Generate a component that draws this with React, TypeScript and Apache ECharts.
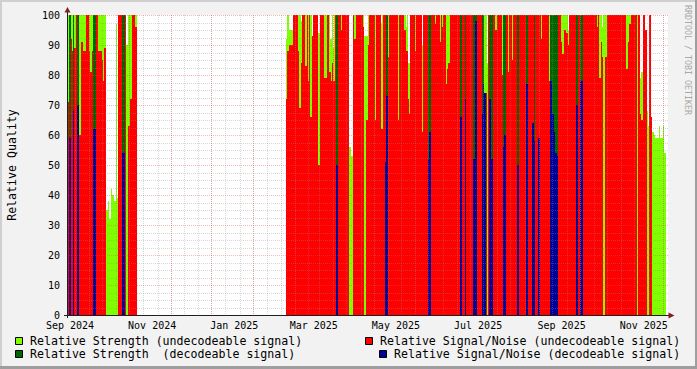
import React, { useEffect, useRef } from 'react';
import * as echarts from 'echarts';

// ---- axis / time setup (x unit = days since 2024-09-01) ----
const BASE_DATE = '2024-09-01';
const X_MIN = -2.2;
const X_MAX = 444.0;

const tickDates = ['2024-09-01', '2024-11-01', '2025-01-01', '2025-03-01', '2025-05-01', '2025-07-01', '2025-09-01', '2025-11-01'];
const tickLabels = ['Sep 2024', 'Nov 2024', 'Jan 2025', 'Mar 2025', 'May 2025', 'Jul 2025', 'Sep 2025', 'Nov 2025'];
const gridMonths = ['2024-08', '2024-09', '2024-10', '2024-11', '2024-12', '2025-01', '2025-02', '2025-03', '2025-04', '2025-05', '2025-06', '2025-07', '2025-08', '2025-09', '2025-10', '2025-11'];
const minorGridDays = ['05', '15', '25'];
const majorGridDays = ['15'];

// ---- data: step breakpoints [day, value] (value holds until next breakpoint; null = no data) ----
const strengthUndecodeable: [number, number | null][] = [
  [-2.2, 100], [26.5, 35], [28.0, 38], [29.0, 32], [30.2, 42], [31.4, 40], [32.9, 38], [33.9, 97], [34.7, 39],
  [35.4, 100], [41.6, 90], [43.1, 100], [50.0, null],
  [160.4, 92], [161.3, 100], [162.8, 95], [165.8, 100], [171.3, 98], [172.8, 100], [179.4, 93], [180.6, 100],
  [184.1, 94], [185.6, 100], [193.0, 92], [194.3, 100], [195.5, 89], [196.2, 100], [207.1, 56], [208.4, 53],
  [209.9, 100], [218.5, 93], [221.5, 100], [230.9, 97], [231.9, 100], [249.2, 96], [250.4, 100], [250.9, 84],
  [252.6, 100], [261.1, 90], [262.1, 100], [309.4, 84], [310.3, 100], [369.9, 95], [371.4, 100], [395.0, 96],
  [395.9, 100], [423.2, 79], [424.1, 81], [425.2, 100], [427.1, 90], [428.1, 68], [428.6, 63], [431.3, 63],
  [432.1, 61], [433.6, 60], [434.5, 59], [437.0, 63], [438.0, 59], [440.5, 63], [441.2, 54], [442.2, null],
];

const snrUndecodeable: [number, number | null][] = [
  [-2.2, 60], [-1.1, 71], [0, 92], [1.5, 88], [3.0, 89], [4.5, 100], [6.7, 60], [7.9, 91], [9.7, 88], [11.9, 100],
  [14.1, 88], [15.2, 81], [16.1, 88], [17.3, 100], [21.0, 88], [23.5, 85], [24.7, 78], [25.5, 89], [26.5, null],
  [35.4, 100], [41.6, null], [43.1, 63], [44.5, 72], [46.0, 100], [48.3, 96], [50.0, null],
  [160.4, 72], [161.3, 88], [162.8, 90], [165.3, 84], [165.8, 100], [169.5, 88], [170.2, 69], [171.3, 84],
  [172.2, 100], [174.5, 83], [175.7, 100], [176.2, 78], [177.2, 100], [178.2, 66], [179.4, 93], [180.6, 100],
  [184.1, 50], [185.6, 100], [188.8, 79], [190.6, 100], [192.3, 81], [193.5, 78], [194.7, 84], [195.5, 78],
  [196.7, 100], [201.0, 95], [201.9, 100], [207.1, null], [209.9, 100], [210.8, 92], [212.3, 100], [217.7, 96],
  [218.5, null], [219.8, 65], [221.5, 90], [222.0, 100], [226.4, 65], [227.2, 100], [230.9, 62], [232.4, 100],
  [235.9, 86], [236.6, 100], [243.3, 65], [244.0, 100], [248.2, 95], [249.2, 88], [250.7, 72], [251.7, 67],
  [252.6, 100], [256.1, 88], [256.9, 100], [261.1, 61], [262.1, 100], [270.8, 97], [271.5, 100], [274.5, 91],
  [275.2, 100], [276.2, 96], [276.9, 100], [279.1, 77], [279.9, 82], [280.9, 84], [282.1, 100], [307.6, 74],
  [309.4, null], [310.3, 100], [315.5, 95], [316.8, 100], [320.5, 80], [321.2, 100], [325.2, 81], [325.7, 100],
  [328.1, 85], [328.9, 100], [349.7, 92], [350.6, 100], [355.8, 78], [356.9, 100], [364.5, 91], [365.5, 87],
  [366.7, 95], [368.0, 94], [369.5, 90], [370.7, 100], [391.0, 96], [391.8, 100], [393.0, 79], [394.0, 91],
  [395.0, 86], [395.9, null], [397.2, 86], [398.4, 100], [412.8, 82], [414.0, 91], [415.2, 97], [416.5, 100],
  [420.7, null], [421.9, 100], [423.2, 67], [424.1, 65], [425.2, 100], [427.1, 95], [428.1, null], [430.1, 100],
  [431.3, 66], [432.1, null],
];

const strengthDecodeable: [number, number | null][] = [
  [-0.4, 100], [1.0, null], [2.0, 100], [3.0, null], [5.0, 100], [6.7, null], [17.3, 100], [19.1, null],
  [38.4, 100], [40.8, null], [197.5, 100], [198.7, null], [234.8, 100], [235.9, null], [266.0, 100], [268.0, null],
  [289.5, 100], [291.0, null], [293.0, 100], [294.2, null], [299.4, 100], [302.2, null], [305.6, 100], [307.6, null],
  [310.8, 100], [314.3, null], [321.2, 100], [323.9, null], [331.9, 100], [333.3, null], [338.8, 100], [340.2, null],
  [344.2, 100], [345.2, null], [356.6, 100], [362.5, null], [375.4, 100], [376.9, null], [378.6, 100], [380.6, null],
];

const snrDecodeable: [number, number | null][] = [
  [-0.4, 59], [1.0, null], [2.0, 68], [3.0, null], [5.0, 70], [6.7, null], [17.3, 62], [19.1, null],
  [38.4, 54], [40.8, null], [197.5, 50], [198.7, null], [233.9, 51], [234.8, 73], [235.9, null],
  [266.0, 52], [266.7, 61], [268.0, null], [289.5, 66], [291.0, null], [293.0, 72], [294.2, null],
  [299.4, 52], [300.4, null], [300.9, 98], [302.2, null], [305.6, 67], [306.8, 77], [307.6, 74], [308.8, null],
  [310.8, 72], [312.3, 52], [314.3, null], [321.2, 56], [322.2, 60], [323.9, null], [331.9, 50], [333.3, null],
  [338.8, 77], [340.2, null], [342.8, 64], [344.2, 58], [345.2, null], [347.7, 59], [348.9, null],
  [356.6, 78], [357.8, 67], [359.1, 61], [360.1, 54], [361.3, 53], [362.5, null], [375.4, 70], [376.9, null],
  [378.6, 78], [380.6, null],
];

const FONT = '"DejaVu Sans Mono", monospace';
const COLORS = {
  strengthU: '#7fff00',
  snrU: '#ff0000',
  strengthD: '#006600',
  snrD: '#000099',
};

const dayOf = (s: string) => (Date.parse(s + 'T00:00:00Z') - Date.parse(BASE_DATE + 'T00:00:00Z')) / 86400000;

function toRuns(bp: [number, number | null][]) {
  const out: number[][] = [];
  for (let i = 0; i < bp.length - 1; i++) {
    const v = bp[i][1];
    if (v !== null) out.push([bp[i][0], bp[i + 1][0], v]);
  }
  return out;
}

function areaSeries(name: string, bp: [number, number | null][], color: string) {
  return {
    type: 'custom',
    name,
    data: toRuns(bp),
    encode: { x: [0, 1], y: 2 },
    clip: true,
    silent: true,
    renderItem: (_p: any, api: any) => {
      const a = api.coord([api.value(0), api.value(2)]);
      const b = api.coord([api.value(1), 0]);
      const x0 = Math.round(a[0]);
      const x1 = Math.max(Math.round(b[0]), x0 + 1);
      const y0 = Math.round(a[1]);
      const y1 = Math.round(b[1]);
      return { type: 'rect', shape: { x: x0, y: y0, width: x1 - x0, height: y1 - y0 }, style: { fill: color } };
    },
  };
}

function vGridSeries(days: number[], color: string) {
  return {
    type: 'custom',
    data: days.map((d) => [d, 0]),
    encode: { x: 0, y: 1 },
    silent: true,
    renderItem: (_p: any, api: any) => {
      const t = api.coord([api.value(0), 100]);
      const b = api.coord([api.value(0), 0]);
      const x = Math.round(t[0]) + 0.5;
      return { type: 'line', shape: { x1: x, y1: Math.round(t[1]), x2: x, y2: Math.round(b[1]) }, style: { stroke: color, lineWidth: 1, lineDash: [1, 1] } };
    },
  };
}

function hGridSeries(values: number[], color: string) {
  return {
    type: 'custom',
    data: values.map((v) => [X_MIN, v]),
    encode: { x: 0, y: 1 },
    silent: true,
    renderItem: (_p: any, api: any) => {
      const l = api.coord([X_MIN, api.value(1)]);
      const r = api.coord([X_MAX, api.value(1)]);
      const y = Math.round(l[1]) + 0.5;
      return { type: 'line', shape: { x1: Math.round(l[0]), y1: y, x2: Math.round(r[0]), y2: y }, style: { stroke: color, lineWidth: 1, lineDash: [1, 1] } };
    },
  };
}

export default function App() {
  const ref = useRef<HTMLDivElement>(null);

  useEffect(() => {
    if (!ref.current) return;
    const chart = echarts.init(ref.current, null, { renderer: 'svg' });

    const tickDays = tickDates.map(dayOf);
    const inRange = (d: number) => d >= X_MIN && d <= X_MAX;
    const minorDays = gridMonths.flatMap((m) => minorGridDays.map((d) => dayOf(`${m}-${d}`))).filter(inRange);
    const majorDays = gridMonths.flatMap((m) => majorGridDays.map((d) => dayOf(`${m}-${d}`))).filter(inRange);
    const minorY: number[] = [];
    for (let v = 2.5; v < 100; v += 2.5) if (v % 10 !== 0) minorY.push(v);
    const majorY: number[] = [];
    for (let v = 10; v <= 100; v += 10) majorY.push(v);

    const legendText = (x: number, y: number, text: string) => ({
      type: 'text', x, y, z: 100,
      style: { text, fontFamily: FONT, fontSize: 11.6, fill: '#000', align: 'left', verticalAlign: 'middle', textAlign: 'left', textVerticalAlign: 'middle' },
    });
    const legendBox = (x: number, y: number, color: string) => ({
      type: 'rect', z: 100,
      shape: { x: x + 0.5, y: y + 0.5, width: 7, height: 7 },
      style: { fill: color, stroke: '#000', lineWidth: 1 },
    });

    chart.setOption({
      animation: false,
      backgroundColor: '#f2f2f2',
      grid: { left: 67, top: 15, width: 601, height: 300, show: true, backgroundColor: '#ffffff', borderWidth: 0, outerBoundsMode: 'none' },
      xAxis: {
        type: 'value', min: X_MIN, max: X_MAX,
        axisLine: { show: false }, axisTick: { show: false }, splitLine: { show: false },
        axisLabel: {
          customValues: tickDays,
          formatter: (v: number) => {
            const i = tickDays.findIndex((d) => Math.abs(d - v) < 1e-6);
            return i >= 0 ? tickLabels[i] : '';
          },
          fontFamily: FONT, fontSize: 10, color: '#000', margin: 5,
        },
      },
      yAxis: {
        type: 'value', min: 0, max: 100, interval: 10,
        axisLine: { show: false }, axisTick: { show: false }, splitLine: { show: false },
        axisLabel: { fontFamily: FONT, fontSize: 10, color: '#000', margin: 7 },
      },
      series: [
        areaSeries('Relative Strength (undecodeable signal)', strengthUndecodeable, COLORS.strengthU),
        areaSeries('Relative Signal/Noise (undecodeable signal)', snrUndecodeable, COLORS.snrU),
        areaSeries('Relative Strength  (decodeable signal)', strengthDecodeable, COLORS.strengthD),
        areaSeries('Relative Signal/Noise (decodeable signal)', snrDecodeable, COLORS.snrD),
        vGridSeries(minorDays, 'rgba(143,143,143,0.35)'),
        hGridSeries(minorY, 'rgba(143,143,143,0.35)'),
        vGridSeries(majorDays, 'rgba(222,79,79,0.4)'),
        hGridSeries(majorY, 'rgba(222,79,79,0.4)'),
      ],
      graphic: [
        // frame shading
        { type: 'rect', z: 100, shape: { x: 0, y: 0, width: 697, height: 2 }, style: { fill: '#cfcfcf' } },
        { type: 'rect', z: 100, shape: { x: 0, y: 0, width: 2, height: 369 }, style: { fill: '#cfcfcf' } },
        { type: 'rect', z: 100, shape: { x: 0, y: 366, width: 697, height: 3 }, style: { fill: '#9e9e9e' } },
        { type: 'rect', z: 100, shape: { x: 695, y: 0, width: 2, height: 369 }, style: { fill: '#9e9e9e' } },
        // axes
        { type: 'line', z: 100, shape: { x1: 67.5, y1: 12, x2: 67.5, y2: 318 }, style: { stroke: '#1f1f1f', lineWidth: 1 } },
        { type: 'line', z: 100, shape: { x1: 64, y1: 315.5, x2: 669, y2: 315.5 }, style: { stroke: '#1f1f1f', lineWidth: 1 } },
        { type: 'polygon', z: 101, shape: { points: [[64.5, 12.5], [70.5, 12.5], [67.5, 7]] }, style: { fill: '#801f1f' } },
        { type: 'polygon', z: 101, shape: { points: [[668.5, 312.5], [668.5, 318.5], [674.5, 315.5]] }, style: { fill: '#801f1f' } },
        // titles
        {
          type: 'text', x: 12, y: 165, rotation: Math.PI / 2, z: 100,
          style: { text: 'Relative Quality', fontFamily: FONT, fontSize: 11.6, fill: '#000', align: 'center', verticalAlign: 'middle', textAlign: 'center', textVerticalAlign: 'middle' },
        },
        {
          type: 'text', x: 688, y: 60, rotation: -Math.PI / 2, z: 100,
          style: { text: 'RRDTOOL / TOBI OETIKER', fontFamily: FONT, fontSize: 8.3, fill: '#a8a8a8', align: 'center', verticalAlign: 'middle', textAlign: 'center', textVerticalAlign: 'middle' },
        },
        // legend
        legendBox(15, 337, COLORS.strengthU),
        legendText(30, 341, 'Relative Strength (undecodeable signal)'),
        legendBox(15, 350, COLORS.strengthD),
        legendText(30, 354, 'Relative Strength  (decodeable signal)'),
        legendBox(365, 337, COLORS.snrU),
        legendText(380, 341, 'Relative Signal/Noise (undecodeable signal)'),
        legendBox(379, 350, COLORS.snrD),
        legendText(394, 354, 'Relative Signal/Noise (decodeable signal)'),
      ],
    });

    return () => chart.dispose();
  }, []);

  return <div ref={ref} style={{ position: 'fixed', left: 0, top: 0, width: 697, height: 369 }} />;
}
